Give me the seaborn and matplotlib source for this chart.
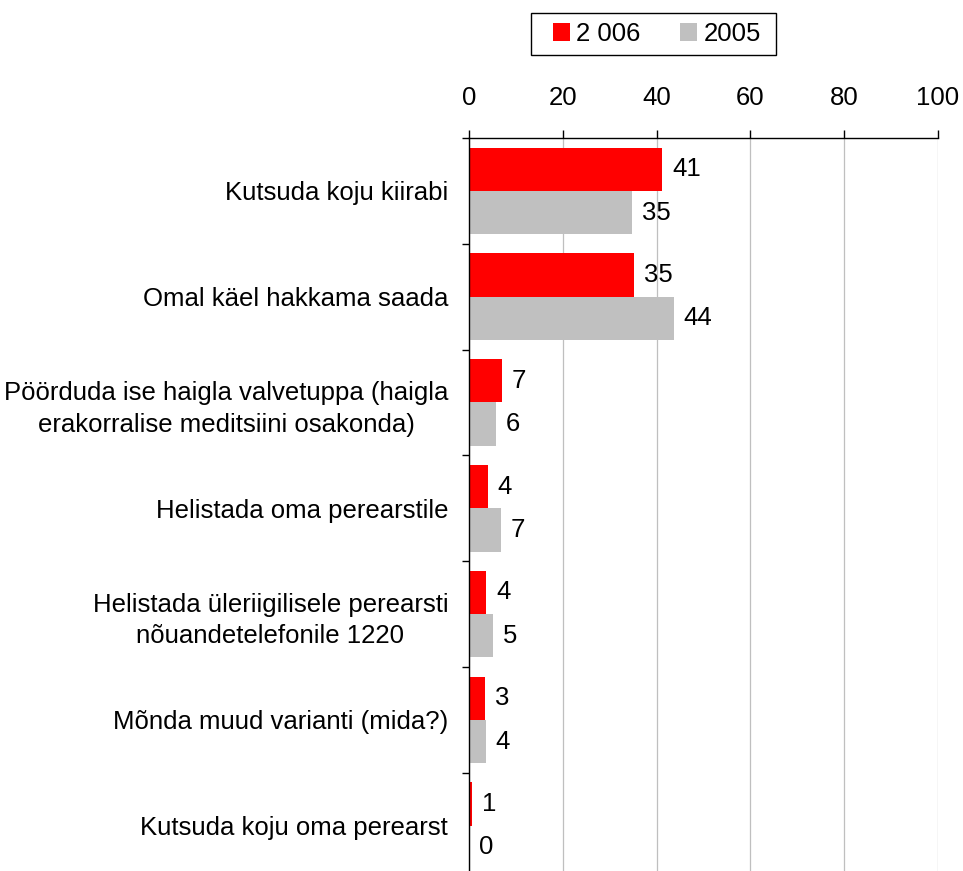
import pandas as pd
import numpy as np
import matplotlib.pyplot as plt
import seaborn as sns
from matplotlib.patches import Rectangle

sns.set_style("white")
plt.rcParams['font.family'] = ['Liberation Sans', 'DejaVu Sans']
plt.rcParams['font.size'] = 18.5
plt.rcParams['text.color'] = 'black'
plt.rcParams['xtick.color'] = 'black'
plt.rcParams['ytick.color'] = 'black'

FS = 18.5

# data
categories = [
    'Kutsuda koju kiirabi',
    'Omal käel hakkama saada',
    'Pöörduda ise haigla valvetuppa (haigla\nerakorralise meditsiini osakonda)',
    'Helistada oma perearstile',
    'Helistada üleriigilisele perearsti\nnõuandetelefonile 1220',
    'Mõnda muud varianti (mida?)',
    'Kutsuda koju oma perearst',
]
series_names = ['2 006', '2005']
values_2006 = [41.2, 35.2, 7.1, 4.0, 3.7, 3.4, 0.7]
values_2005 = [34.8, 43.7, 5.8, 6.9, 5.1, 3.6, 0.0]
x_ticks = [0, 20, 40, 60, 80, 100]

df = pd.DataFrame({
    'Vastus': categories * 2,
    'Aasta': [series_names[0]] * len(categories) + [series_names[1]] * len(categories),
    'Protsent': values_2006 + values_2005,
})

fig = plt.figure(figsize=(9.63, 8.71), dpi=100)
ax = fig.add_axes([469 / 963, 0.0, (938 - 469) / 963, 1 - 138 / 871])

sns.barplot(data=df, y='Vastus', x='Protsent', hue='Aasta', hue_order=series_names,
            palette={'2 006': '#FF0000', '2005': '#C0C0C0'}, orient='h',
            width=0.82, saturation=1, linewidth=0, ax=ax, legend=True)

# rótulos nas barras
for cont in ax.containers:
    ax.bar_label(cont, labels=[f'{v:.0f}' for v in cont.datavalues], padding=7,
                 fontsize=FS, color='black')

ax.set_xlim(0, 100)
ax.set_ylim(-0.5 + 733 / 105.8, -0.5)
ax.set_xlabel('')
ax.set_ylabel('')

# eixo x no topo
ax.xaxis.tick_top()
ax.set_xticks(x_ticks)
ax.set_xticklabels([str(t) for t in x_ticks])
ax.tick_params(axis='x', which='major', direction='out', length=6, width=1,
               color='black', labelcolor='black', pad=14, labelsize=FS, top=True, bottom=False)
ax.xaxis.grid(True, color='#BFBFBF', linewidth=0.9)
ax.yaxis.grid(False)

# rótulos das categorias e marcas nas divisões
ax.set_yticks(range(len(categories)))
ax.set_yticklabels(categories, multialignment='center', linespacing=1.4)
ax.set_yticks([i - 0.5 for i in range(len(categories))], minor=True)
ax.tick_params(axis='y', which='major', length=0, pad=15, labelsize=FS, labelcolor='black')
ax.tick_params(axis='y', which='minor', direction='out', length=5, width=1,
               color='black', left=True)

for side in ['right', 'bottom']:
    ax.spines[side].set_visible(False)
for side in ['top', 'left']:
    ax.spines[side].set_visible(True)
    ax.spines[side].set_color('black')
    ax.spines[side].set_linewidth(1)

# legenda (moldura desenhada à parte)
handles, labels = ax.get_legend_handles_labels()
ax.get_legend().remove()
leg = fig.legend(handles, labels, loc='center', bbox_to_anchor=(657 / 963, 1 - 34 / 871),
                 ncol=2, fontsize=FS, frameon=False,
                 handlelength=0.65, handleheight=0.65, handletextpad=0.25, columnspacing=1.55,
                 borderpad=0, borderaxespad=0)
fig.patches.append(Rectangle((531 / 963, 1 - 55 / 871), 245 / 963, 42 / 871,
                             transform=fig.transFigure, fill=False,
                             edgecolor='black', linewidth=1))

plt.savefig('out.png', dpi=100)
plt.close()
